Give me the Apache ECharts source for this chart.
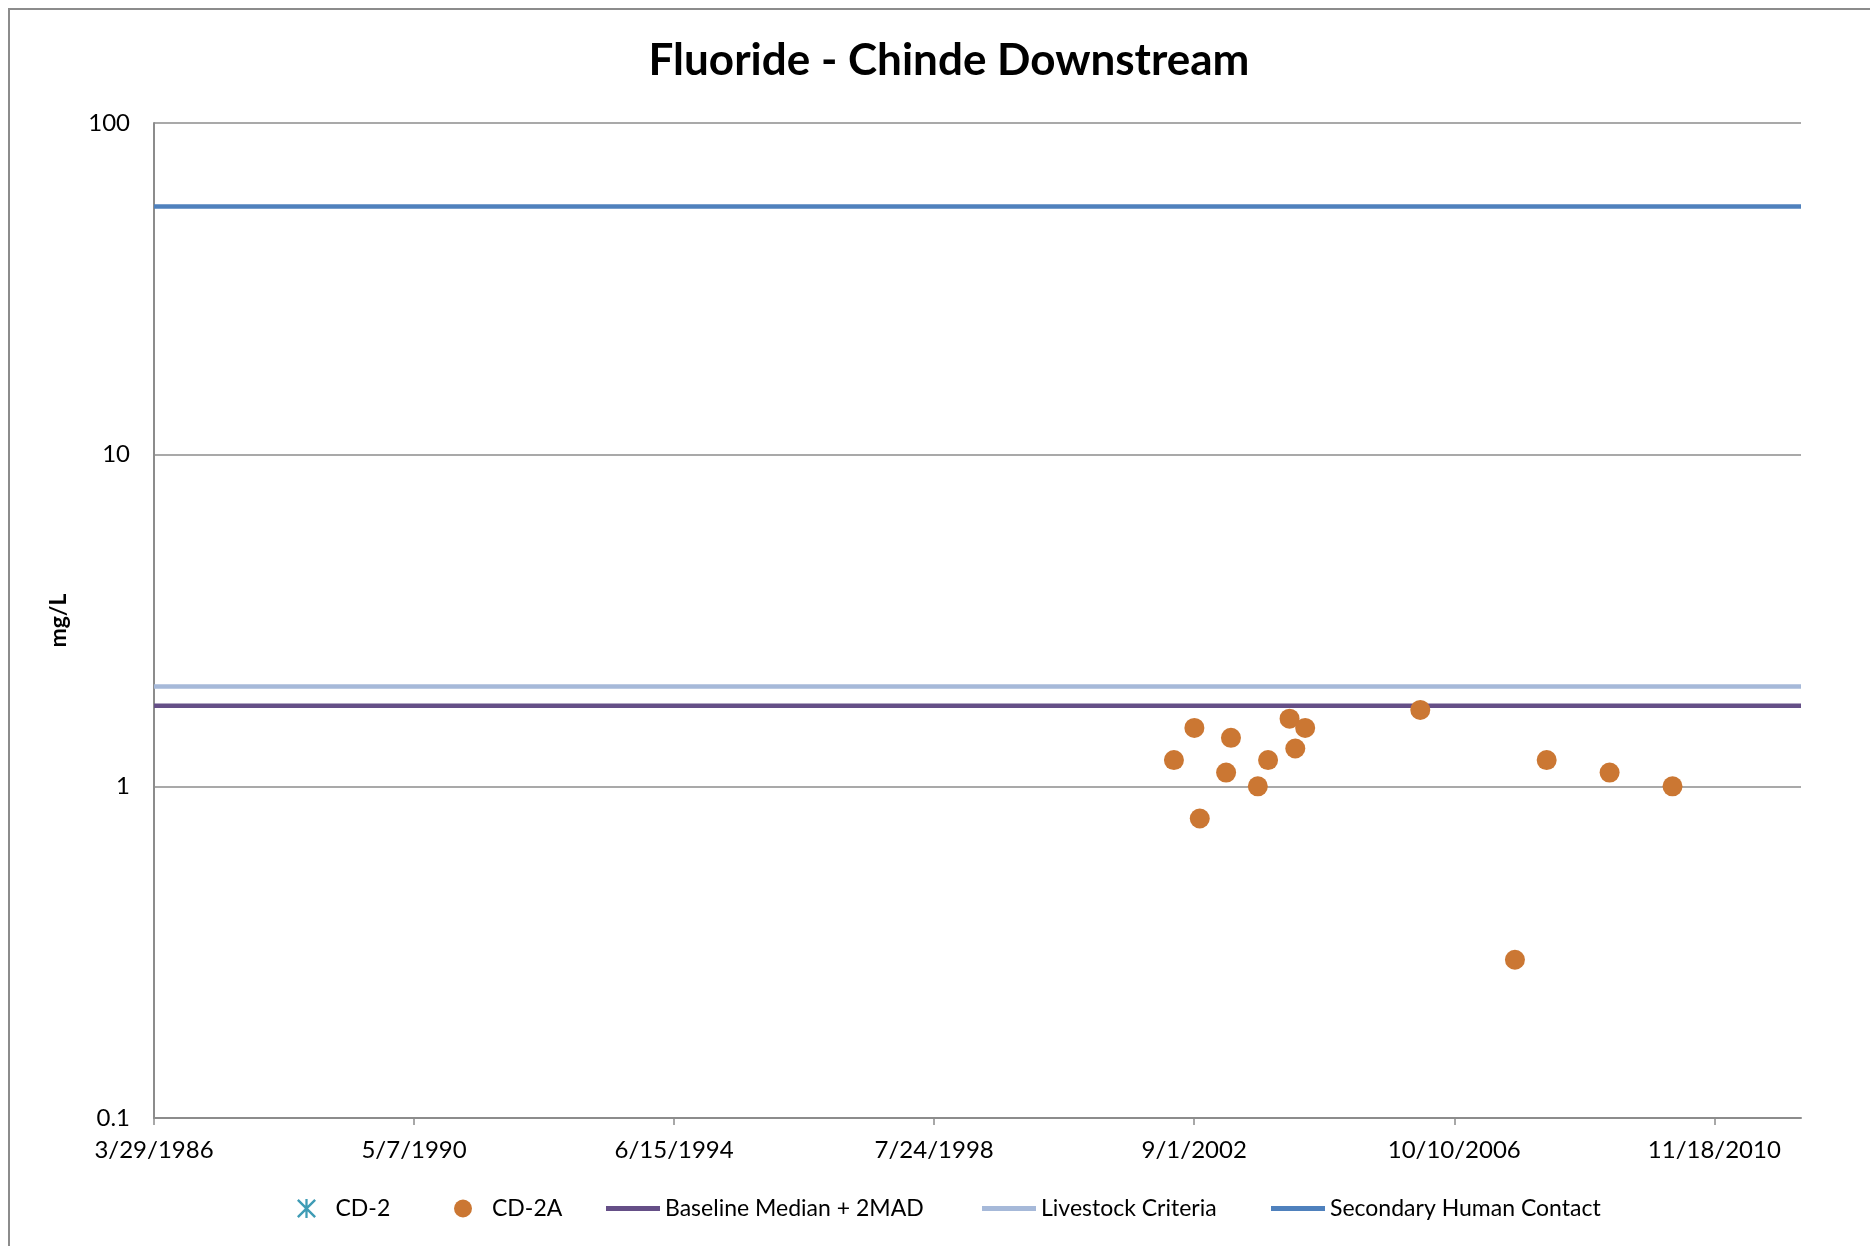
<!DOCTYPE html>
<html>
<head>
<meta charset="utf-8">
<title>Fluoride - Chinde Downstream</title>
<script src="https://cdn.jsdelivr.net/npm/echarts@6/dist/echarts.min.js"></script>
<style>
  html, body { margin: 0; padding: 0; background: #fff; }
  #chart { width: 1870px; height: 1246px; }
</style>
</head>
<body>
<div id="chart"></div>
<script>
// sample dates and values
var cd2Dates = [];
var cd2Values = [];
var cd2aDates = ['2002-05-07', '2002-09-02', '2002-10-03', '2003-03-04', '2003-04-01',
  '2003-09-03', '2003-11-01', '2004-03-04', '2004-04-06', '2004-06-02',
  '2006-03-28', '2007-09-25', '2008-03-26', '2009-03-24', '2010-03-22'];
var cd2aValues = [1.2, 1.5, 0.8, 1.1, 1.4, 1.0, 1.2, 1.6, 1.3, 1.5, 1.7, 0.3, 1.2, 1.1, 1.0];

// criteria lines (mg/L)
var baselineValue = 1.75;
var livestockValue = 2;
var secondaryValue = 56;

// x axis: Excel-style day numbers, 3/29/1986 .. and a tick every 1500 days
var xMin = 31500;
var xMax = 41000;
var xStep = 1500;
var yTicks = [0.1, 1, 10, 100];

var font = 'Lato';

function toSerial(s) {
  var p = s.split('-');
  return Date.UTC(+p[0], +p[1] - 1, +p[2]) / 86400000 + 25569;
}
function serialLabel(v) {
  var d = new Date((v - 25569) * 86400000);
  return (d.getUTCMonth() + 1) + '/' + d.getUTCDate() + '/' + d.getUTCFullYear();
}
function pairs(dates, values) {
  return dates.map(function (d, i) { return [toSerial(d), values[i]]; });
}
function flat(v) {
  return [[xMin, v], [xMax, v]];
}

var chart = echarts.init(document.getElementById('chart'), null, { renderer: 'canvas' });

var asterisk = 'path://M4.4 0L5.6 0L5.6 10L4.4 10Z M0 0.9L0.9 0L10 9.1L9.1 10Z M9.1 0L10 0.9L0.9 10L0 9.1Z';

var legendText = { fontFamily: font, fontSize: 23, color: '#000' };
function legendAt(name, left, w, h, icon) {
  var l = {
    data: [name], left: left, top: 1197, itemWidth: w, itemHeight: h, itemGap: 0,
    padding: 0, textStyle: legendText, selectedMode: false
  };
  if (icon) l.icon = icon;
  return l;
}

var option = {
  backgroundColor: '#fff',
  animation: false,
  title: {
    text: 'Fluoride - Chinde Downstream',
    left: 944,
    textAlign: 'center',
    top: 34,
    textStyle: { fontFamily: font, fontSize: 44, fontWeight: 'bold', color: '#000' }
  },
  graphic: [{
    type: 'rect',
    shape: { x: 9, y: 9, width: 1900, height: 1300 },
    style: { fill: 'none', stroke: '#8c8c8c', lineWidth: 2 },
    silent: true
  }],
  legend: [
    legendAt('CD-2', 297, 48, 19),
    legendAt('CD-2A', 454, 48, 18),
    legendAt('Baseline Median + 2MAD', 606, 54, 5, 'rect'),
    legendAt('Livestock Criteria', 982, 54, 5, 'rect'),
    legendAt('Secondary Human Contact', 1271, 54, 5, 'rect')
  ],
  grid: { left: 154, right: 69, top: 123, bottom: 128 },
  xAxis: {
    type: 'value',
    min: xMin,
    max: xMax,
    interval: xStep,
    axisLine: { lineStyle: { color: '#8c8c8c', width: 2 } },
    axisTick: { show: true, length: 7, lineStyle: { color: '#8c8c8c', width: 1.5 } },
    splitLine: { show: false },
    axisLabel: {
      margin: 20,
      fontFamily: font, fontSize: 24, color: '#000',
      showMaxLabel: false,
      formatter: serialLabel
    }
  },
  yAxis: {
    type: 'log',
    logBase: 10,
    min: yTicks[0],
    max: yTicks[yTicks.length - 1],
    name: 'mg/L',
    nameLocation: 'middle',
    nameRotate: 90,
    nameGap: 84,
    nameTextStyle: { fontFamily: font, fontSize: 23, fontWeight: 'bold', color: '#000' },
    axisLine: { show: true, lineStyle: { color: '#8c8c8c', width: 2 } },
    axisTick: { show: false },
    splitLine: { show: true, lineStyle: { color: '#8c8c8c', width: 1.5 } },
    axisLabel: {
      margin: 24,
      fontFamily: font, fontSize: 24, color: '#000',
      formatter: function (v) { return String(+v.toPrecision(3)); }
    }
  },
  series: [{
    name: 'CD-2',
    type: 'scatter',
    symbol: asterisk,
    symbolSize: 18,
    itemStyle: { color: '#3f9cb5', opacity: 1 },
    data: pairs(cd2Dates, cd2Values)
  }, {
    name: 'CD-2A',
    type: 'scatter',
    symbol: 'circle',
    symbolSize: 20,
    itemStyle: { color: '#cb7733', opacity: 1 },
    z: 5,
    data: pairs(cd2aDates, cd2aValues)
  }, {
    name: 'Baseline Median + 2MAD',
    type: 'line',
    symbol: 'none',
    lineStyle: { color: '#654f87', width: 4.5 },
    itemStyle: { color: '#654f87' },
    data: flat(baselineValue)
  }, {
    name: 'Livestock Criteria',
    type: 'line',
    symbol: 'none',
    lineStyle: { color: '#a6b9d9', width: 4.5 },
    itemStyle: { color: '#a6b9d9' },
    data: flat(livestockValue)
  }, {
    name: 'Secondary Human Contact',
    type: 'line',
    symbol: 'none',
    lineStyle: { color: '#4f81bd', width: 4.5 },
    itemStyle: { color: '#4f81bd' },
    data: flat(secondaryValue)
  }]
};

chart.setOption(option);
</script>
</body>
</html>
